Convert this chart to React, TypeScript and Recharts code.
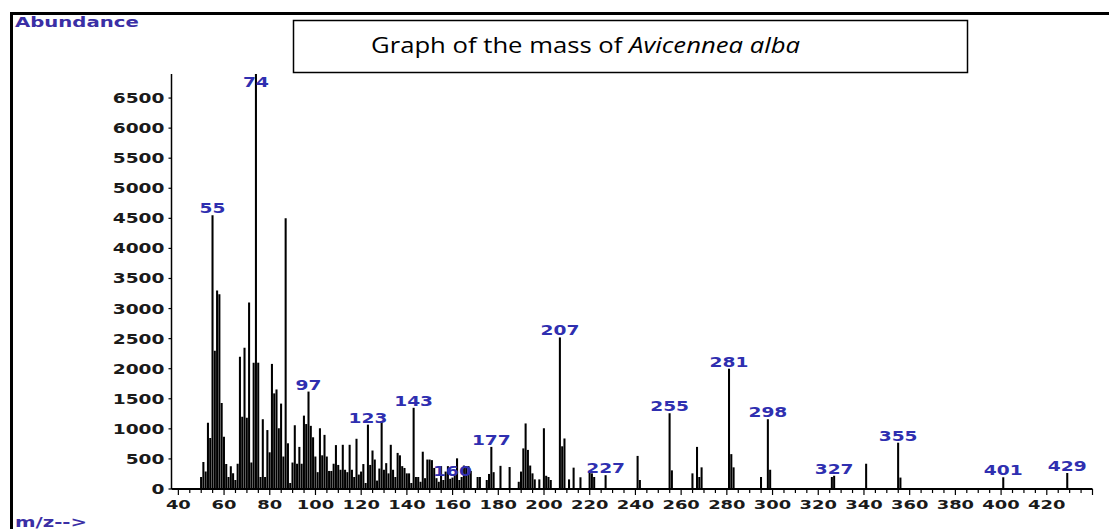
import { BarChart, Bar, XAxis, YAxis, LabelList } from 'recharts';

// m/z of every line in the spectrum
const massToCharge = [
  50, 51, 52, 53, 54, 55, 56, 57, 58, 59,
  60, 61, 62, 63, 64, 65, 66, 67, 68, 69,
  70, 71, 72, 73, 74, 75, 76, 77, 78, 79,
  80, 81, 82, 83, 84, 85, 86, 87, 88, 89,
  90, 91, 92, 93, 94, 95, 96, 97, 98, 99,
  100, 101, 102, 103, 104, 105, 106, 107, 108, 109,
  110, 111, 112, 113, 114, 115, 116, 117, 118, 119,
  120, 121, 122, 123, 124, 125, 126, 127, 128, 129,
  130, 131, 132, 133, 134, 135, 136, 137, 138, 139,
  140, 141, 142, 143, 144, 145, 146, 147, 148, 149,
  150, 151, 152, 153, 154, 155, 156, 157, 158, 159,
  160, 161, 162, 163, 164, 165, 166, 167, 168, 171,
  172, 175, 176, 177, 178, 181, 185, 189, 190, 191,
  192, 193, 194, 195, 196, 198, 200, 201, 202, 203,
  207, 208, 209, 211, 213, 216, 220, 221, 222, 227,
  241, 242, 255, 256, 265, 267, 268, 269, 281, 282,
  283, 295, 298, 299, 326, 327, 341, 355, 356, 401,
  429,
];

// abundance of each line, same order as massToCharge
const abundance = [
  200, 450, 290, 1100, 850, 4550, 2300, 3300, 3240, 1430,
  870, 415, 200, 380, 260, 150, 420, 2200, 1200, 2350,
  1185, 3100, 440, 2100, 6900, 2100, 200, 1160, 200, 980,
  610, 2080, 1590, 1655, 1010, 1420, 540, 4500, 760, 100,
  440, 1060, 420, 700, 420, 1220, 1080, 1620, 1050, 860,
  540, 280, 1010, 560, 900, 540, 300, 300, 420, 730,
  400, 320, 735, 320, 280, 735, 320, 200, 835, 240,
  290, 415, 100, 1070, 400, 640, 490, 140, 340, 1120,
  320, 430, 260, 735, 320, 200, 600, 560, 380, 350,
  260, 260, 100, 1350, 200, 200, 120, 620, 180, 490,
  490, 480, 350, 180, 120, 380, 150, 290, 380, 170,
  190, 230, 510, 150, 200, 390, 380, 380, 300, 200,
  200, 150, 250, 700, 280, 385, 365, 120, 290, 675,
  1090, 650, 390, 260, 160, 160, 1010, 220, 200, 150,
  2520, 710, 840, 160, 355, 195, 270, 260, 200, 230,
  550, 150, 1260, 310, 260, 700, 200, 360, 2000, 580,
  360, 200, 1160, 320, 200, 220, 420, 770, 190, 195,
  265,
];

// lines that carry a blue m/z label
const labelledPeaks = [55, 74, 97, 123, 143, 160, 177, 207, 227, 255, 281, 298, 327, 355, 401, 429];

const yTicks = [0, 500, 1000, 1500, 2000, 2500, 3000, 3500, 4000, 4500, 5000, 5500, 6000, 6500];
const xLabelTicks = [40, 60, 80, 100, 120, 140, 160, 180, 200, 220, 240, 260, 280, 300, 320, 340, 360, 380, 400, 420];
const xTicks = Array.from({ length: 81 }, (_, i) => 40 + i * 5);

const data = massToCharge.map((mz, i) => ({ mz, abundance: abundance[i] }));

const tickFont = 'DejaVu Sans, Verdana, sans-serif';

function YTick(props: any) {
  const { x, y, payload } = props;
  return (
    <g>
      <line x1={x - 3} x2={x} y1={y} y2={y} stroke="#000" strokeWidth={1.2} />
      <text
        transform={`translate(${x - 7},${y + 5}) scale(1.38,1)`}
        textAnchor="end"
        fontFamily={tickFont}
        fontWeight="bold"
        fontSize={13.5}
        fill="#1a1a1a"
      >
        {payload.value}
      </text>
    </g>
  );
}

function XTick(props: any) {
  const { x, y, payload } = props;
  const v = payload.value;
  const major = v % 20 === 0;
  return (
    <g>
      <line x1={x} x2={x} y1={y} y2={y + (major ? 6 : 4)} stroke="#000" strokeWidth={1.2} />
      {xLabelTicks.includes(v) && (
        <text
          transform={`translate(${x},${y + 19.5}) scale(1.38,1)`}
          textAnchor="middle"
          fontFamily={tickFont}
          fontWeight="bold"
          fontSize={13}
          fill="#1a1a1a"
        >
          {v}
        </text>
      )}
    </g>
  );
}

function PeakLabel(props: any) {
  const { x, y, width, value } = props;
  if (!labelledPeaks.includes(value)) return null;
  const cx = x + width / 2;
  const by = Math.max(y - 2, 87);
  return (
    <text
      transform={`translate(${cx},${by}) scale(1.38,1)`}
      textAnchor="middle"
      fontFamily={tickFont}
      fontWeight="bold"
      fontSize={13.5}
      fill="#2f2fb0"
    >
      {value}
    </text>
  );
}

export default function App() {
  return (
    <div
      style={{
        position: 'absolute',
        left: 0,
        top: 0,
        width: 1109,
        height: 529,
        overflow: 'hidden',
        background: '#fff',
      }}
    >
      <BarChart
        width={1109}
        height={529}
        data={data}
        margin={{ top: 74, right: 16.5, bottom: 10, left: 111.5 }}
      >
        <XAxis
          type="number"
          dataKey="mz"
          domain={[37, 440]}
          ticks={xTicks}
          interval={0}
          allowDataOverflow
          height={30}
          tickSize={0}
          tickMargin={0}
          tickLine={false}
          axisLine={{ stroke: '#000', strokeWidth: 2 }}
          tick={<XTick />}
        />
        <YAxis
          type="number"
          domain={[0, 6900]}
          ticks={yTicks}
          interval={0}
          width={60}
          tickSize={0}
          tickMargin={0}
          tickLine={false}
          axisLine={{ stroke: '#000', strokeWidth: 1.5 }}
          tick={<YTick />}
        />
        <Bar dataKey="abundance" fill="#000" barSize={2.3} isAnimationActive={false}>
          <LabelList dataKey="mz" content={<PeakLabel />} />
        </Bar>
      </BarChart>

      {/* frame, title box and corner captions */}
      <svg
        width={1109}
        height={529}
        style={{ position: 'absolute', left: 0, top: 0, pointerEvents: 'none' }}
      >
        <line x1={11.5} x2={11.5} y1={12} y2={529} stroke="#000" strokeWidth={3} />
        <line x1={10} x2={1109} y1={13.5} y2={13.5} stroke="#000" strokeWidth={3} />
        <rect x={293.5} y={20.5} width={674} height={52} fill="#fff" stroke="#000" strokeWidth={1.5} />
        <text
          x={371}
          y={53}
          fontFamily="Open Sans, sans-serif"
          fontSize={22}
          fill="#000"
          textLength={429}
          lengthAdjust="spacingAndGlyphs"
        >
          Graph of the mass of <tspan fontStyle="italic">Avicennea alba</tspan>
        </text>
        <text
          transform="translate(15,27) scale(1.46,1)"
          fontFamily={tickFont}
          fontWeight="bold"
          fontSize={13.5}
          fill="#3b2fa5"
        >
          Abundance
        </text>
        <text
          transform="translate(15,527) scale(1.46,1)"
          fontFamily={tickFont}
          fontWeight="bold"
          fontSize={13.5}
          fill="#3b2fa5"
        >
          m/z--&gt;
        </text>
      </svg>
    </div>
  );
}
